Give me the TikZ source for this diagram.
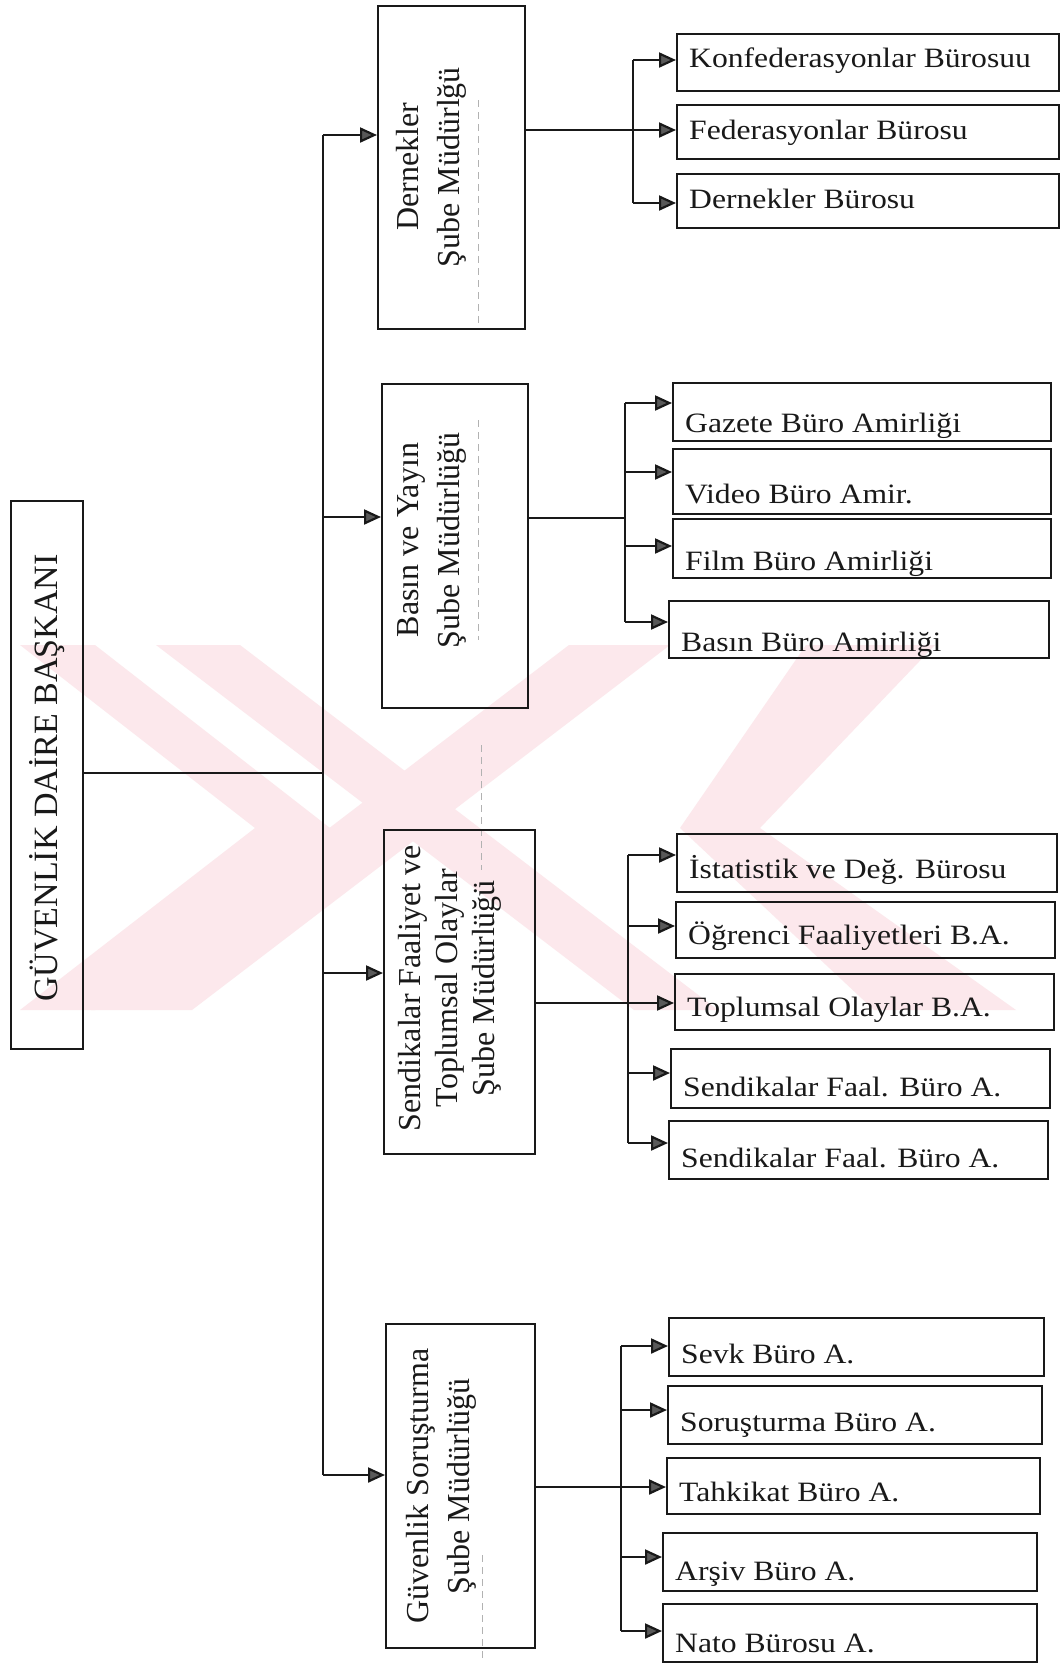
\documentclass[tikz,border=0pt]{standalone}
\usepackage{fontspec}
\setmainfont{Liberation Serif}
\newfontfamily\hfont[FakeStretch=1.13]{Liberation Serif}
\usetikzlibrary{arrows.meta}
\definecolor{wm}{RGB}{252,232,236}
\definecolor{ink}{RGB}{25,25,25}
\newcommand\obox[5]{\node[bx, anchor=north west, minimum width={(#4)-(#2)}, minimum height={(#5)-(#3)}] (#1) at (#2,-#3) {};}
\tikzset{
  ln/.style={line width=1.8pt, draw=ink},
  bx/.style={draw=ink, line width=1.8pt, inner sep=0pt, rectangle},
  arr/.style={ln, -{Triangle[length=17pt,width=15pt,fill=black!65,line width=2.2pt]}},
  hl/.style={font=\hfont\fontsize{28}{32}\selectfont, inner sep=0pt, text=ink},
  vl/.style={font=\fontsize{32}{41}\selectfont, rotate=90, align=center, inner sep=0pt, text=ink},
  ttl/.style={font=\fontsize{34}{40}\selectfont, rotate=90, inner sep=0pt, text=ink},
  fold/.style={draw=gray!60, line width=1pt, dash pattern=on 7pt off 5pt},
  wmk/.style={fill=wm, draw=none}
}
\begin{document}
\begin{tikzpicture}[x=1pt,y=1pt]
\fill[white] (0,0) rectangle (1060,-1663);
\useasboundingbox (0,0) rectangle (1060,-1663);
% watermark
\fill[wmk] (20,-645) -- (95,-645) -- (330,-828) -- (95,-1010) -- (20,-1010) -- (255,-828) -- cycle;
\fill[wmk] (156,-645) -- (240,-645) -- (718,-1010) -- (634,-1010) -- cycle;
\fill[wmk] (569,-645) -- (670,-645) -- (192,-1010) -- (91,-1010) -- cycle;
\fill[wmk] (806,-645) -- (935,-645) -- (760,-828) -- (1016,-1010) -- (874,-1010) -- (680,-828) -- cycle;
% fold line
\draw[fold] (478,-100) -- (478,-330);
\draw[fold] (478,-420) -- (478,-640);
\draw[fold] (481,-745) -- (481,-870);
\draw[fold] (482,-1555) -- (482,-1663);
% main box
\obox{main}{10}{500}{82}{1048}
\node[ttl] (maint) at (47,-778) {GÜVENLİK DAİRE BAŞKANI};
% middle boxes
\obox{D}{377}{5}{524}{328}
\obox{B}{381}{383}{527}{707}
\obox{S}{383}{829}{534}{1153}
\obox{G}{385}{1323}{534}{1647}
\node[vl] (Dt) at (431,-167) {Dernekler\\Şube Müdürlğü};
\node[vl] (Bt) at (432,-540) {Basın ve Yayın\\Şube Müdürlüğü};
\node[vl, font=\fontsize{32}{37}\selectfont] (St) at (450,-988) {Sendikalar Faaliyet ve\\Toplumsal Olaylar\\Şube Müdürlüğü};
\node[vl] (Gt) at (441,-1486) {Güvenlik Soruşturma\\Şube Müdürlüğü};
% trunk
\coordinate (m0) at (323,-773);
\coordinate (t1) at (323,-135);
\coordinate (t2) at (323,-517);
\coordinate (t3) at (323,-973);
\coordinate (t4) at (323,-1475);
\draw[ln] (m0 -| main.east) -- (m0);
\draw[ln] (t1) -- (t4);
\draw[arr] (t1) -- (t1 -| D.west);
\draw[arr] (t2) -- (t2 -| B.west);
\draw[arr] (t3) -- (t3 -| S.west);
\draw[arr] (t4) -- (t4 -| G.west);
% Dernekler group
\obox{k1}{676}{33}{1058}{90}
\obox{k2}{676}{104}{1058}{158}
\obox{k3}{676}{173}{1058}{227}
\node[hl, anchor=base west, xshift=13pt, yshift=24pt] (k1t) at (k1.south west) {Konfederasyonlar Bürosuu};
\node[hl, anchor=base west, xshift=13pt, yshift=20pt] (k2t) at (k2.south west) {Federasyonlar Bürosu};
\node[hl, anchor=base west, xshift=13pt, yshift=20pt] (k3t) at (k3.south west) {Dernekler Bürosu};
\coordinate (dk1) at (633,-60);
\coordinate (dk2) at (633,-130);
\coordinate (dk3) at (633,-203);
\draw[ln] (dk2 -| D.east) -- (dk2);
\draw[ln] (dk1) -- (dk3);
\draw[arr] (dk1) -- (dk1 -| k1.west);
\draw[arr] (dk2) -- (dk2 -| k2.west);
\draw[arr] (dk3) -- (dk3 -| k3.west);
% Basin group
\obox{g1}{672}{382}{1050}{440}
\obox{g2}{672}{448}{1050}{513}
\obox{g3}{672}{518}{1050}{577}
\obox{g4}{668}{600}{1048}{657}
\node[hl, anchor=base west, xshift=13pt, yshift=9pt] (g1t) at (g1.south west) {Gazete Büro Amirliği};
\node[hl, anchor=base west, xshift=13pt, yshift=11pt] (g2t) at (g2.south west) {Video Büro Amir.};
\node[hl, anchor=base west, xshift=13pt, yshift=8pt] (g3t) at (g3.south west) {Film Büro Amirliği};
\node[hl, anchor=base west, xshift=13pt, yshift=7pt] (g4t) at (g4.south west) {Basın Büro Amirliği};
\coordinate (bg0) at (625,-518);
\coordinate (bg1) at (625,-403);
\coordinate (bg2) at (625,-472);
\coordinate (bg3) at (625,-546);
\coordinate (bg4) at (625,-622);
\draw[ln] (bg0 -| B.east) -- (bg0);
\draw[ln] (bg1) -- (bg4);
\draw[arr] (bg1) -- (bg1 -| g1.west);
\draw[arr] (bg2) -- (bg2 -| g2.west);
\draw[arr] (bg3) -- (bg3 -| g3.west);
\draw[arr] (bg4) -- (bg4 -| g4.west);
% Sendikalar group
\obox{s1}{676}{833}{1056}{891}
\obox{s2}{675}{901}{1054}{957}
\obox{s3}{674}{973}{1053}{1029}
\obox{s4}{670}{1048}{1049}{1107}
\obox{s5}{668}{1120}{1047}{1178}
\node[hl, anchor=base west, xshift=13pt, yshift=14pt] (s1t) at (s1.south west) {İstatistik ve Değ. Bürosu};
\node[hl, anchor=base west, xshift=13pt, yshift=14pt] (s2t) at (s2.south west) {Öğrenci Faaliyetleri B.A.};
\node[hl, anchor=base west, xshift=13pt, yshift=14pt] (s3t) at (s3.south west) {Toplumsal Olaylar B.A.};
\node[hl, anchor=base west, xshift=13pt, yshift=12pt] (s4t) at (s4.south west) {Sendikalar Faal. Büro A.};
\node[hl, anchor=base west, xshift=13pt, yshift=12pt] (s5t) at (s5.south west) {Sendikalar Faal. Büro A.};
\coordinate (sg1) at (628,-855);
\coordinate (sg2) at (628,-926);
\coordinate (sg3) at (628,-1003);
\coordinate (sg4) at (628,-1073);
\coordinate (sg5) at (628,-1143);
\draw[ln] (sg3 -| S.east) -- (sg3);
\draw[ln] (sg1) -- (sg5);
\draw[arr] (sg1) -- (sg1 -| s1.west);
\draw[arr] (sg2) -- (sg2 -| s2.west);
\draw[arr] (sg3) -- (sg3 -| s3.west);
\draw[arr] (sg4) -- (sg4 -| s4.west);
\draw[arr] (sg5) -- (sg5 -| s5.west);
% Guvenlik group
\obox{v1}{668}{1317}{1043}{1375}
\obox{v2}{667}{1385}{1041}{1443}
\obox{v3}{666}{1457}{1039}{1513}
\obox{v4}{662}{1532}{1036}{1590}
\obox{v5}{662}{1603}{1036}{1661}
\node[hl, anchor=base west, xshift=13pt, yshift=13pt] (v1t) at (v1.south west) {Sevk Büro A.};
\node[hl, anchor=base west, xshift=13pt, yshift=13pt] (v2t) at (v2.south west) {Soruşturma Büro A.};
\node[hl, anchor=base west, xshift=13pt, yshift=13pt] (v3t) at (v3.south west) {Tahkikat Büro A.};
\node[hl, anchor=base west, xshift=13pt, yshift=11pt] (v4t) at (v4.south west) {Arşiv Büro A.};
\node[hl, anchor=base west, xshift=13pt, yshift=10pt] (v5t) at (v5.south west) {Nato Bürosu A.};
\coordinate (vg1) at (621,-1346);
\coordinate (vg2) at (621,-1410);
\coordinate (vg3) at (621,-1487);
\coordinate (vg4) at (621,-1557);
\coordinate (vg5) at (621,-1631);
\draw[ln] (vg3 -| G.east) -- (vg3);
\draw[ln] (vg1) -- (vg5);
\draw[arr] (vg1) -- (vg1 -| v1.west);
\draw[arr] (vg2) -- (vg2 -| v2.west);
\draw[arr] (vg3) -- (vg3 -| v3.west);
\draw[arr] (vg4) -- (vg4 -| v4.west);
\draw[arr] (vg5) -- (vg5 -| v5.west);
\end{tikzpicture}
\end{document}
